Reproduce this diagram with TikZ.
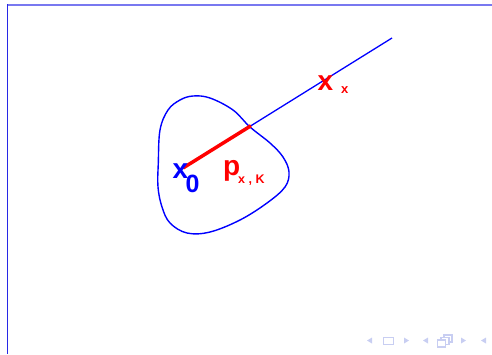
\documentclass[tikz,border=0pt]{standalone}
\usepackage{fontspec}
\setmainfont{Liberation Sans}
\usetikzlibrary{calc}
\definecolor{framelight}{RGB}{120,120,240}
\definecolor{framedark}{RGB}{40,40,230}
\definecolor{navcol}{RGB}{200,206,242}
\begin{document}
\begin{tikzpicture}[x=1pt,y=-1pt,
  lbl/.style={inner sep=0pt,anchor=base west,font=\bfseries},
  navtri/.style={fill=navcol,draw=none},
  navbox/.style={draw=navcol,line width=1.1pt,fill=white}]
\useasboundingbox (0,0) rectangle (492,354);
% frame
\draw[framelight,line width=2pt] (7,4.5) -- (492,4.5);
\draw[framedark,line width=1.8pt] (7.5,4) -- (7.5,354);
% region
\draw[blue,line width=1.4pt] plot[smooth cycle,tension=0.6] coordinates {
 (158.3,163) (160,130) (168,110) (180,100) (193,96) (210,98) (233,110)
 (250,127) (270,143) (283,157) (289,172) (285,187) (267,203) (240,220)
 (210,232) (187,233) (170,223) (162,207) (158,187)};
% ray
\coordinate (X0) at (183,168);
\coordinate (E) at (392,38);
\coordinate (P) at ($(X0)!0.325!(E)$);
\draw[blue,line width=1.3pt] (X0) -- (E);
\draw[red,line width=3.5pt] (X0) -- (P);
% labels
\node[lbl,blue,font=\bfseries\fontsize{28}{28}\selectfont] (lx0) at (172.5,178) {x};
\node[lbl,blue,font=\bfseries\fontsize{25}{25}\selectfont] (lx0s) at (185.5,192) {0};
\node[lbl,red,font=\bfseries\fontsize{28}{28}\selectfont] (lp) at (223,175) {p};
\node[lbl,red,font=\bfseries\fontsize{12.5}{12.5}\selectfont] (lps) at (238,183) {x , K};
\node[lbl,red,font=\bfseries\fontsize{28}{28}\selectfont] (lx) at (317.5,90) {x};
\node[lbl,red,font=\bfseries\fontsize{13}{13}\selectfont] (lxs) at (341,93) {x};
% navigation symbols
\fill[navtri] (367,340.5) -- (372,337.5) -- (372,343.5) -- cycle;
\draw[navbox] (383.5,337.5) rectangle (393.5,344.5);
\fill[navtri] (409,340.5) -- (404,337.5) -- (404,343.5) -- cycle;
\fill[navtri] (423,340.5) -- (428,337.5) -- (428,343.5) -- cycle;
\draw[navbox] (444,335) rectangle (452,342);
\draw[navbox] (441,337.5) rectangle (449,344.5);
\draw[navbox] (437.5,340) rectangle (445.5,347);
\fill[navtri] (466,340.5) -- (461,337.5) -- (461,343.5) -- cycle;
\fill[navtri] (481,340.5) -- (486,337.5) -- (486,343.5) -- cycle;
\end{tikzpicture}
\end{document}
